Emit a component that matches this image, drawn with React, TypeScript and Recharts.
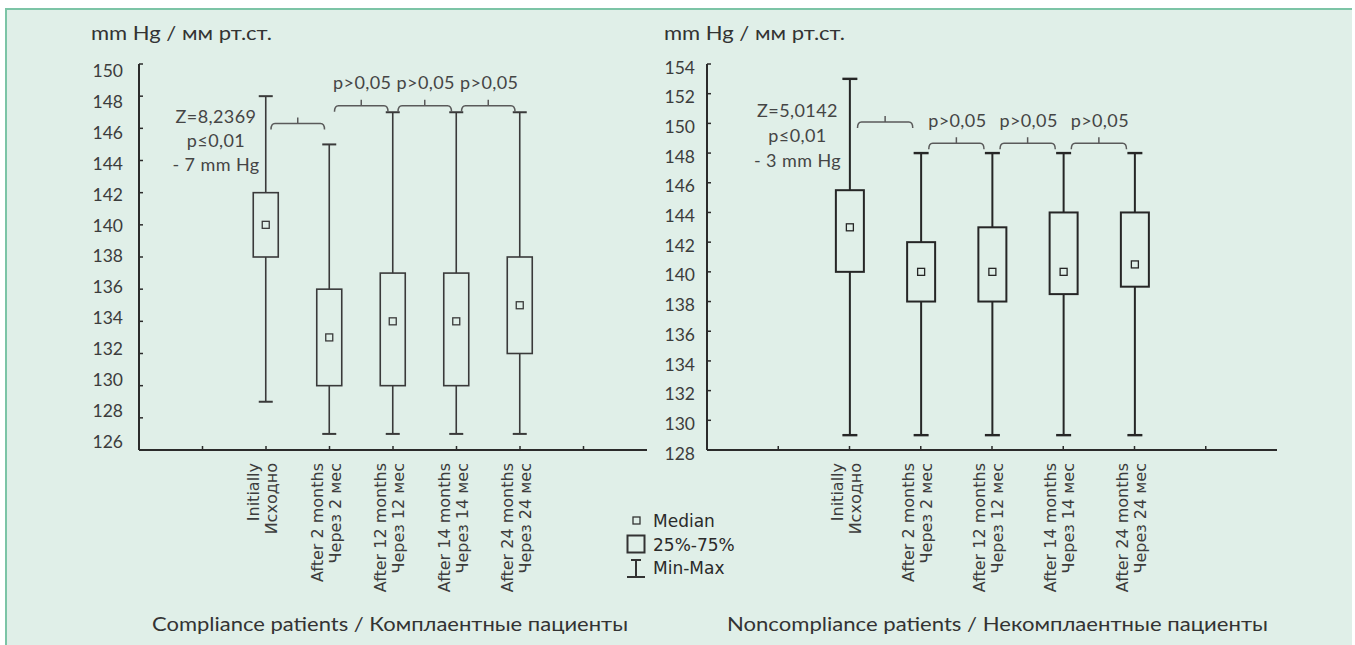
import React from "react";
import { ComposedChart, Bar, Line, XAxis, YAxis, ReferenceLine, ReferenceDot } from "recharts";

// ---------- data ----------
const slotNames = ["0", "1", "2", "3", "4", "5", "6"]; // slot 0 and 6 are empty
const labelsEn = ["", "Initially", "After 2 months", "After 12 months", "After 14 months", "After 24 months", ""];
const labelsRu = ["", "Исходно", "Через 2 мес", "Через 12 мес", "Через 14 мес", "Через 24 мес", ""];

// Compliance patients
const compMin = [129, 127, 127, 127, 127];
const compQ1 = [138, 130, 130, 130, 132];
const compMed = [140, 133, 134, 134, 135];
const compQ3 = [142, 136, 137, 137, 138];
const compMax = [148, 145, 147, 147, 147];
const compTicks = [126, 128, 130, 132, 134, 136, 138, 140, 142, 144, 146, 148, 150];
const compNote = ["Z=8,2369", "p≤0,01", "- 7 mm Hg"];

// Noncompliance patients
const nonMin = [129, 129, 129, 129, 129];
const nonQ1 = [140, 138, 138, 138.5, 139];
const nonMed = [143, 140, 140, 140, 140.5];
const nonQ3 = [145.5, 142, 143, 144, 144];
const nonMax = [153, 148, 148, 148, 148];
const nonTicks = [128, 130, 132, 134, 136, 138, 140, 142, 144, 146, 148, 150, 152, 154];
const nonNote = ["Z=5,0142", "p≤0,01", "- 3 mm Hg"];

const pairLabels = ["", "p>0,05", "p>0,05", "p>0,05"];
const compPairY = [146.3, 147.4, 147.4, 147.4];
const nonPairY = [150.1, 148.66, 148.66, 148.66];
const compNoteY = 146.7;
const nonNoteY = 150.86;

const legendItems = ["Median", "25%-75%", "Min-Max"];
const yTitle = "mm Hg / мм рт.ст.";
const compTitle = "Compliance patients / Комплаентные пациенты";
const nonTitle = "Noncompliance patients / Некомплаентные пациенты";

function buildRows(mn: number[], q1: number[], md: number[], q3: number[], mx: number[]) {
  return slotNames.map((name, i) => {
    const k = i - 1;
    if (k < 0 || k >= mn.length) return { name };
    return { name, min: mn[k], q1: q1[k], med: md[k], q3: q3[k], max: mx[k] };
  });
}
const compRows = buildRows(compMin, compQ1, compMed, compQ3, compMax);
const nonRows = buildRows(nonMin, nonQ1, nonMed, nonQ3, nonMax);

// ---------- styles ----------
const LATO = "Lato, 'Noto Sans', sans-serif";
const DEJAVU = "'DejaVu Sans', Verdana, sans-serif";
const AXIS = "#2b2b2b";
const NOTE_FILL = "#454545";

function makeBoxShape(st: { stroke: string; sw: number; capW: number; med: number }) {
  return (props: any) => {
    const { x, y, width, height, payload } = props;
    if (!payload || payload.q1 == null || !isFinite(y) || !isFinite(height)) return <g />;
    const top = Math.min(y, y + height);
    const h = Math.abs(height);
    const k = h / (payload.q3 - payload.q1);
    const py = (v: number) => top + (payload.q3 - v) * k;
    const cx = x + width / 2;
    const c = st.capW / 2;
    const s = st.med;
    return (
      <g fill="none" stroke={st.stroke} strokeWidth={st.sw}>
        <line x1={cx} x2={cx} y1={py(payload.max)} y2={top} />
        <line x1={cx} x2={cx} y1={top + h} y2={py(payload.min)} />
        <line x1={cx - c} x2={cx + c} y1={py(payload.max)} y2={py(payload.max)} strokeWidth={st.sw + 0.4} />
        <line x1={cx - c} x2={cx + c} y1={py(payload.min)} y2={py(payload.min)} strokeWidth={st.sw + 0.4} />
        <rect x={x} y={top} width={width} height={h} />
        <rect x={cx - s / 2} y={py(payload.med) - s / 2} width={s} height={s} strokeWidth={1.3} />
      </g>
    );
  };
}

const braceShape = (inset: number, up: number, down: number, label: string) => (p: any) => {
  const xa = Math.min(p.x1, p.x2) + inset;
  const xb = Math.max(p.x1, p.x2) - inset;
  const y = p.y1;
  const xm = (xa + xb) / 2;
  const r = 4;
  return (
    <g>
      <path
        d={`M${xa},${y + down} Q${xa},${y} ${xa + r},${y} L${xb - r},${y} Q${xb},${y} ${xb},${y + down} M${xm},${y} L${xm},${y - up}`}
        fill="none"
        stroke="#5a5a5a"
        strokeWidth={1.5}
      />
      {label ? (
        <text x={xm + 1} y={y - 23} dy="0.35em" textAnchor="middle" fontFamily={LATO} fontSize={18} letterSpacing={0.4} fill={NOTE_FILL}>
          {label}
        </text>
      ) : null}
    </g>
  );
};

const noteShape = (lines: string[], dx: number, lh: number) => (p: any) => (
  <text x={p.cx + dx} y={p.cy} textAnchor="middle" fontFamily={LATO} fontSize={18} letterSpacing={0.4} fill={NOTE_FILL}>
    {lines.map((l, i) => (
      <tspan key={i} x={p.cx + dx} dy={i === 0 ? "0.35em" : lh}>
        {l}
      </tspan>
    ))}
  </text>
);

const makeYTick = (dyFn: (v: number) => number) => (p: any) => (
  <text x={p.x} y={p.y + dyFn(p.payload.value)} dy="0.35em" textAnchor="end" fontFamily={LATO} fontSize={17.5} fill="#3c3c3c">
    {p.payload.value}
  </text>
);

const xTick = (p: any) => {
  const i = Number(p.payload.value);
  const en = labelsEn[i];
  const ru = labelsRu[i];
  if (!en) return <g />;
  return (
    <g transform={`translate(${p.x},${p.y}) rotate(-90)`}>
      <text x={0} y={-7} textAnchor="end" fontFamily={DEJAVU} fontSize={16} fill="#3c3c3c">
        {en}
      </text>
      <text x={0} y={11} textAnchor="end" fontFamily={DEJAVU} fontSize={16} fill="#3c3c3c">
        {ru}
      </text>
    </g>
  );
};

const emptyTick = () => <g />;

function BoxPanel(props: {
  rows: any[];
  width: number;
  yWidth: number;
  marginRight: number;
  domain: number[];
  ticks: number[];
  pad: number;
  tickMarginY: number;
  dyFn: (v: number) => number;
  boxW: number;
  box: { stroke: string; sw: number; capW: number; med: number };
  note: string[];
  noteY: number;
  noteDx: number;
  noteLh: number;
  pairY: number[];
  inset: number;
}) {
  const axisLine = { stroke: AXIS, strokeWidth: 2 };
  const tickLine = { stroke: AXIS, strokeWidth: 1.5 };
  return (
    <ComposedChart
      width={props.width}
      height={645}
      data={props.rows}
      margin={{ top: 64, right: props.marginRight, bottom: 45, left: 0 }}
    >
      <XAxis
        dataKey="name"
        type="category"
        height={150}
        padding={{ left: props.pad, right: props.pad }}
        interval={0}
        tickSize={-4}
        tickMargin={17}
        axisLine={axisLine}
        tickLine={tickLine}
        tick={xTick}
      />
      <XAxis
        xAxisId="t"
        orientation="top"
        dataKey="name"
        type="category"
        height={0}
        padding={{ left: props.pad, right: props.pad }}
        interval={0}
        tickSize={-4}
        axisLine={axisLine}
        tickLine={tickLine}
        tick={emptyTick}
      />
      <YAxis
        type="number"
        domain={props.domain}
        ticks={props.ticks}
        allowDataOverflow
        width={props.yWidth}
        interval={0}
        tickSize={-4}
        tickMargin={props.tickMarginY}
        axisLine={axisLine}
        tickLine={tickLine}
        tick={makeYTick(props.dyFn)}
      />
      <YAxis
        yAxisId="r"
        orientation="right"
        type="number"
        domain={props.domain}
        ticks={props.ticks}
        allowDataOverflow
        width={0}
        interval={0}
        tickSize={-4}
        axisLine={axisLine}
        tickLine={tickLine}
        tick={emptyTick}
      />
      <Bar
        dataKey={(d: any) => (d.q1 == null ? null : [d.q1, d.q3])}
        barSize={props.boxW}
        shape={makeBoxShape(props.box)}
        isAnimationActive={false}
      />
      <Line
        xAxisId="t"
        yAxisId="r"
        dataKey="med"
        stroke="none"
        dot={false}
        activeDot={false}
        isAnimationActive={false}
      />
      <ReferenceDot x="1" y={props.noteY} r={1} shape={noteShape(props.note, props.noteDx, props.noteLh)} />
      {pairLabels.map((lab, i) => (
        <ReferenceLine
          key={i}
          segment={[
            { x: slotNames[i + 1], y: props.pairY[i] },
            { x: slotNames[i + 2], y: props.pairY[i] },
          ]}
          shape={braceShape(props.inset, 6, 6, lab)}
        />
      ))}
    </ComposedChart>
  );
}

export default function App() {
  return (
    <div style={{ position: "absolute", left: 0, top: 0, width: 1355, height: 645, overflow: "hidden", background: "#ffffff" }}>
      <div
        style={{
          position: "absolute",
          left: 5,
          top: 8,
          width: 1345,
          height: 640,
          background: "#e0efe8",
          borderTop: "2px solid #7cc4a6",
          borderLeft: "2px solid #7cc4a6",
        }}
      />
      <div style={{ position: "absolute", left: 0, top: 0 }}>
        <BoxPanel
          rows={compRows}
          width={660}
          yWidth={139}
          marginRight={13}
          domain={[126, 150]}
          ticks={compTicks}
          pad={31.75}
          tickMarginY={20}
          dyFn={(v) => -0.65 + 0.6125 * (v - 138)}
          boxW={25}
          box={{ stroke: "#3a3a3a", sw: 1.6, capW: 14, med: 7 }}
          note={compNote}
          noteY={compNoteY}
          noteDx={-50}
          noteLh={24}
          pairY={compPairY}
          inset={5}
        />
      </div>
      <div style={{ position: "absolute", left: 660, top: 0 }}>
        <BoxPanel
          rows={nonRows}
          width={695}
          yWidth={47}
          marginRight={78}
          domain={[128, 154]}
          ticks={nonTicks}
          pad={35.625}
          tickMarginY={16}
          dyFn={() => 3.5}
          boxW={28}
          box={{ stroke: "#262626", sw: 2, capW: 15, med: 7 }}
          note={nonNote}
          noteY={nonNoteY}
          noteDx={-52}
          noteLh={25}
          pairY={nonPairY}
          inset={8}
        />
      </div>
      <svg
        width={1355}
        height={645}
        style={{ position: "absolute", left: 0, top: 0, pointerEvents: "none" }}
      >
        <text x={91} y={40} fontFamily={LATO} fontSize={19} fill="#333" textLength={181} lengthAdjust="spacingAndGlyphs">{yTitle}</text>
        <text x={664} y={40} fontFamily={LATO} fontSize={19} fill="#333" textLength={181} lengthAdjust="spacingAndGlyphs">{yTitle}</text>
        <text x={152} y={624} dy="0.35em" fontFamily={LATO} fontSize={19.5} fill="#333" textLength={476} lengthAdjust="spacingAndGlyphs">{compTitle}</text>
        <text x={727} y={624} dy="0.35em" fontFamily={LATO} fontSize={19.5} fill="#333" textLength={541} lengthAdjust="spacingAndGlyphs">{nonTitle}</text>
        {/* legend */}
        <rect x={633} y={517} width={7} height={7} fill="none" stroke="#333" strokeWidth={1.3} />
        <rect x={627.5} y={535.5} width={17} height={17} fill="none" stroke="#333" strokeWidth={2} />
        <g stroke="#333" strokeWidth={2}>
          <line x1={636} x2={636} y1={560} y2={577} />
          <line x1={631} x2={641} y1={560} y2={560} />
          <line x1={627} x2={645} y1={577} y2={577} />
        </g>
        {legendItems.map((t, i) => (
          <text key={t} x={653} y={520.7 + i * 23.8} dy="0.36em" fontFamily={DEJAVU} fontSize={17} fill="#2a2a2a">
            {t}
          </text>
        ))}
      </svg>
    </div>
  );
}
